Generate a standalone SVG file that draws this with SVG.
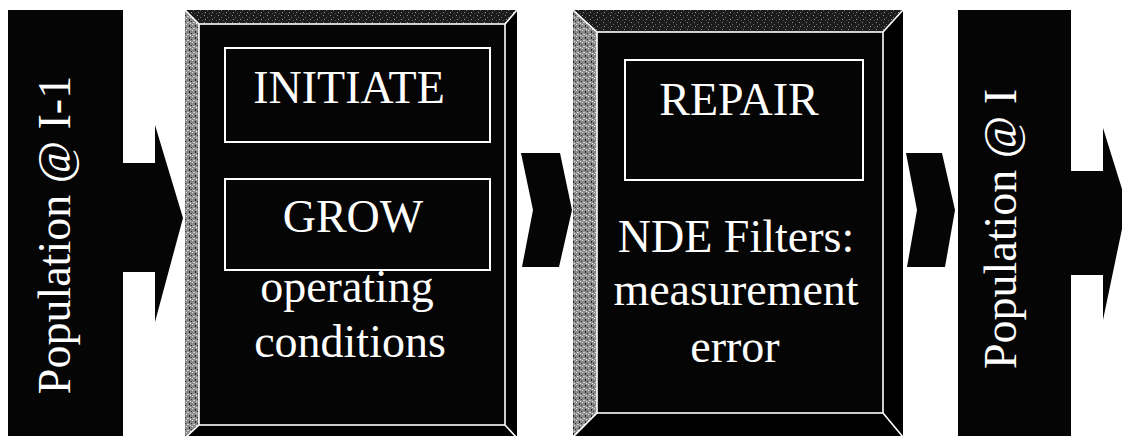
<svg xmlns="http://www.w3.org/2000/svg" width="1122" height="436" viewBox="0 0 1122 436">
  <defs>
    <pattern id="speckGray" width="6" height="6" patternUnits="userSpaceOnUse">
      <rect width="6" height="6" fill="#8a8a8a"/>
      <rect x="0" y="0" width="1" height="1" fill="#e8e8e8"/>
      <rect x="3" y="1" width="1" height="2" fill="#222"/>
      <rect x="1" y="4" width="2" height="1" fill="#d0d0d0"/>
      <rect x="5" y="3" width="1" height="1" fill="#333"/>
      <rect x="4" y="5" width="1" height="1" fill="#f0f0f0"/>
    </pattern>
    <pattern id="speckDark" width="7" height="7" patternUnits="userSpaceOnUse">
      <rect width="7" height="7" fill="#1c1c1c"/>
      <rect x="1" y="1" width="1" height="1" fill="#8a8a8a"/>
      <rect x="4" y="3" width="1" height="1" fill="#6a6a6a"/>
      <rect x="2" y="5" width="1" height="1" fill="#9a9a9a"/>
      <rect x="6" y="6" width="1" height="1" fill="#555"/>
    </pattern>
  </defs>
  <style>
    .blk { fill: #050505; }
    .face { fill: #050505; }
    .bevL { fill: url(#speckGray); }
    .bevT { fill: url(#speckDark); }
    .bevD { fill: #000; }
    .wl { fill: none; stroke: #ffffff; stroke-width: 1.6; }
    .sub { fill: #050505; stroke: #ffffff; stroke-width: 2; }
    .t { font-family: "Liberation Serif", "Times New Roman", serif; font-size: 46px; fill: #ffffff; text-anchor: middle; }
  </style>
  <rect width="1122" height="436" fill="#ffffff"/>

  <g id="connectors">
    <polygon class="blk" points="122,163 155,163 155,125 183,218 155,322 155,272 122,272"/>
    <polygon class="blk" points="521,153 560,153 572,210 559,267 522,267 533,210"/>
    <polygon class="blk" points="906,153 942,153 955,210 945,267 907,267 917,210"/>
    <polygon class="blk" points="1070,171 1103,171 1103,128 1127,205 1103,320 1103,275 1070,275"/>
  </g>

  <g id="pop-prev">
    <rect class="blk" x="8" y="10" width="115" height="428"/>
    <text class="t" transform="translate(70,235) rotate(-90)">Population @ I-1</text>
  </g>

  <g id="process-grow">
    <polygon class="bevT" points="185,10 517,10 505,24 199,24"/>
    <polygon class="bevL" points="185,10 199,24 199,425 185,438"/>
    <polygon class="bevD" points="517,10 517,438 505,425 505,24"/>
    <polygon class="bevD" points="185,438 199,425 505,425 517,438"/>
    <rect class="face" x="199" y="24" width="306" height="401"/>
    <rect class="wl" x="199" y="24" width="306" height="401"/>
    <line class="wl" x1="185" y1="10" x2="199" y2="24"/>
    <line class="wl" x1="517" y1="10" x2="505" y2="24"/>
    <line class="wl" x1="517" y1="438" x2="505" y2="425"/>
    <line class="wl" x1="185" y1="438" x2="199" y2="425"/>
    <g id="initiate">
      <rect class="sub" x="225" y="48" width="265" height="94"/>
      <text class="t" x="349" y="103">INITIATE</text>
    </g>
    <g id="grow">
      <rect class="sub" x="225" y="179" width="265" height="91"/>
      <text class="t" x="353" y="232">GROW</text>
    </g>
    <text class="t" x="347" y="302">operating</text>
    <text class="t" x="350" y="357">conditions</text>
  </g>

  <g id="process-repair">
    <polygon class="bevT" points="573,10 903,10 883,32 597,32"/>
    <polygon class="bevL" points="573,10 597,32 597,413 573,437"/>
    <polygon class="bevD" points="903,10 903,437 883,413 883,32"/>
    <polygon class="bevD" points="573,437 597,413 883,413 903,437"/>
    <rect class="face" x="597" y="32" width="286" height="381"/>
    <rect class="wl" x="597" y="32" width="286" height="381"/>
    <line class="wl" x1="573" y1="10" x2="597" y2="32"/>
    <line class="wl" x1="903" y1="10" x2="883" y2="32"/>
    <line class="wl" x1="903" y1="437" x2="883" y2="413"/>
    <line class="wl" x1="573" y1="437" x2="597" y2="413"/>
    <g id="repair">
      <rect class="sub" x="625" y="60" width="238" height="120"/>
      <text class="t" x="739" y="115">REPAIR</text>
    </g>
    <text class="t" x="736" y="252">NDE Filters:</text>
    <text class="t" x="736" y="305">measurement</text>
    <text class="t" x="735" y="362">error</text>
  </g>

  <g id="pop-next">
    <rect class="blk" x="958" y="10" width="113" height="428"/>
    <text class="t" transform="translate(1016,229) rotate(-90)">Population @ I</text>
  </g>
</svg>
